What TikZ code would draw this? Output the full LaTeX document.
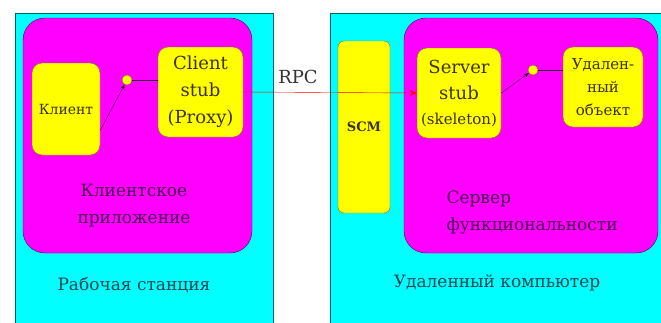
\documentclass[tikz,border=0pt]{standalone}
\usepackage{fontspec}
\setmainfont{DejaVu Serif}
\usetikzlibrary{arrows.meta}
\definecolor{hostcyan}{RGB}{0,255,255}
\definecolor{appmagenta}{RGB}{255,0,255}
\definecolor{partyellow}{RGB}{255,255,0}
\definecolor{hosttext}{RGB}{20,70,80}
\definecolor{apptext}{RGB}{70,10,80}
\definecolor{parttext}{RGB}{60,50,10}
\tikzset{
	host/.style={draw=teal!80!black, fill=hostcyan, inner sep=0pt},
	app/.style={draw=violet!60!black, fill=appmagenta, rounded corners=22pt, inner sep=0pt},
	part/.style={draw=olive!80!black, fill=partyellow, rounded corners=10pt, align=center, inner sep=0pt, text=parttext},
	port/.style={circle, draw=olive!80!black, fill=partyellow, inner sep=0pt, minimum size=10pt},
	uses/.style={draw=violet!40!black, -{Stealth[length=5pt,width=4pt]}},
}
\begin{document}
\begin{tikzpicture}[x=1pt,y=-1pt]
	\useasboundingbox[fill=white] (0,0) rectangle (661,322);
	% hosts
	\node[host, minimum width=258pt, minimum height=317pt] (ws) at (144,171.5) {};
	\node[host, minimum width=340pt, minimum height=317pt] (rc) at (500,171.5) {};
	% applications
	\node[app, minimum width=229pt, minimum height=235pt] (capp) at (137.5,135.5) {};
	\node[app, minimum width=254pt, minimum height=235pt] (sapp) at (531,135.5) {};
	% parts
	\node[part, minimum width=68pt, minimum height=92pt, font=\fontsize{14}{17}\selectfont] (client) at (66,109) {Клиент};
	\node[part, minimum width=85pt, minimum height=90pt, font=\fontsize{18}{27}\selectfont] (cstub) at (200.5,92) {Client\\stub\\(Proxy)};
	\node[part, rounded corners=6pt, minimum width=52pt, minimum height=172pt, font=\bfseries\fontsize{13}{16}\selectfont] (scm) at (364,127) {SCM};
	\node[part, minimum width=84pt, minimum height=90pt, font=\fontsize{18}{26}\selectfont] (sstub) at (459,93) {Server\\stub\\[-1pt]{\fontsize{15}{22}\selectfont(skeleton)}};
	\node[part, minimum width=80pt, minimum height=80pt, font=\fontsize{15}{23}\selectfont] (robj) at (603,87) {Удален-\\ный\\объект};
	% interfaces
	\node[port] (cport) at (127,80) {};
	\node[port] (sport) at (533,70) {};
	\draw[violet!40!black] (cport.east) -- (cport -| cstub.west);
	\draw[violet!40!black] (sport.east) -- (sport -| robj.west);
	\draw[uses] (client.-32) -- (cport);
	\draw[uses] (sstub.east) -- (sport);
	% call
	\draw[red, -{Stealth[length=7pt,width=6pt]}] (cstub.east) -- (sstub.west);
	\node[font=\fontsize{18}{22}\selectfont, text=black!80] (rpc) at (298,77) {RPC};
	% labels
	\node[align=center, text=apptext, font=\fontsize{17}{27}\selectfont] (capplbl) at (134,206) {Клиентское\\приложение};
	\node[align=left, anchor=west, text=apptext, font=\fontsize{17}{27}\selectfont] (sapplbl) at (443,213) {Сервер\\функциональности};
	\node[text=hosttext, font=\fontsize{17}{22}\selectfont] (wslbl) at (134,285) {Рабочая станция};
	\node[text=hosttext, font=\fontsize{17}{22}\selectfont] (rclbl) at (497,283) {Удаленный компьютер};
\end{tikzpicture}
\end{document}
